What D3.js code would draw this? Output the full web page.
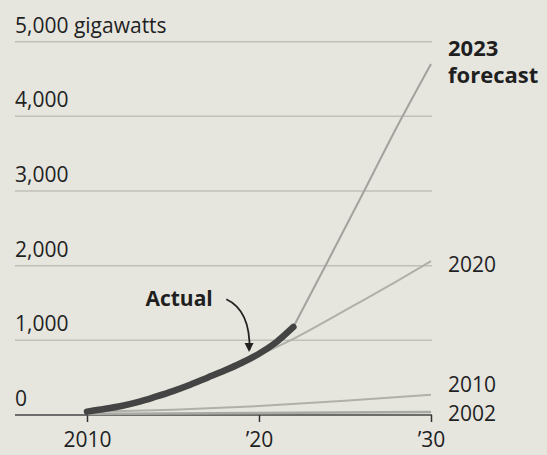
<!DOCTYPE html>
<html>
<head>
<meta charset="utf-8">
<script src="https://cdn.jsdelivr.net/npm/d3@7"></script>
<style>
  body { margin: 0; background: #e6e6df; }
  svg { display: block; }
  text { font-family: 'Open Sans', sans-serif; fill: #1f1f1f; }
</style>
</head>
<body>
<svg></svg>
<script>
// values, gigawatts
var actualYears = [2010, 2011, 2012, 2013, 2014, 2015, 2016, 2017, 2018, 2019, 2020, 2021, 2022];
var actualValues = [45, 80, 120, 175, 245, 320, 405, 500, 595, 700, 820, 975, 1180];

var f2023Years = [2022, 2024, 2026, 2028, 2030];
var f2023Values = [1180, 2060, 2950, 3850, 4700];

var f2020Years = [2020, 2021, 2022, 2024, 2026, 2028, 2030];
var f2020Values = [810, 910, 1020, 1270, 1530, 1790, 2060];

var f2010Years = [2010, 2015, 2020, 2025, 2030];
var f2010Values = [40, 70, 120, 190, 270];

var f2002Years = [2010, 2020, 2030];
var f2002Values = [15, 28, 40];

var yTicks = [0, 1000, 2000, 3000, 4000, 5000];
var yTickLabels = ['0', '1,000', '2,000', '3,000', '4,000', '5,000 gigawatts'];
var xTicks = [2010, 2020, 2030];
var xTickLabels = ['2010', '\u201920', '\u201930'];

var svgWidth = 547;
var svgHeight = 455;

var svg = d3.select('svg').attr('width', svgWidth).attr('height', svgHeight);

svg.append('rect')
  .attr('width', svgWidth)
  .attr('height', svgHeight)
  .attr('fill', '#e6e6df');

var xScale = d3.scaleLinear().domain([2010, 2030]).range([87, 431]);
var yScale = d3.scaleLinear().domain([0, 5000]).range([415, 41.7]);

var gridLeft = 15;
var gridRight = 432;

function zip(years, values) {
  return years.map((yr, i) => ({ year: yr, value: values[i] }));
}

// gridlines
svg.append('g')
  .selectAll('line')
  .data(yTicks.slice(1))
  .enter()
  .append('line')
  .attr('x1', gridLeft)
  .attr('x2', gridRight)
  .attr('y1', (d) => yScale(d))
  .attr('y2', (d) => yScale(d))
  .attr('stroke', '#c0c0b8')
  .attr('stroke-width', 1.5);

// y labels
svg.append('g')
  .selectAll('text')
  .data(yTicks)
  .enter()
  .append('text')
  .attr('x', gridLeft)
  .attr('y', (d) => yScale(d) - 9)
  .attr('font-size', 21)
  .text((d, i) => yTickLabels[i]);

// baseline
svg.append('line')
  .attr('x1', gridLeft)
  .attr('x2', gridRight)
  .attr('y1', yScale(0))
  .attr('y2', yScale(0))
  .attr('stroke', '#444')
  .attr('stroke-width', 1.5);

// x axis ticks
var xAxis = d3.axisBottom(xScale)
  .tickValues(xTicks)
  .tickSize(7)
  .tickFormat((d, i) => xTickLabels[i]);

var xAxisG = svg.append('g')
  .attr('transform', 'translate(0,' + yScale(0) + ')')
  .call(xAxis);

xAxisG.select('.domain').remove();
xAxisG.selectAll('line').attr('stroke', '#333').attr('stroke-width', 1.5);
xAxisG.selectAll('text')
  .attr('font-family', "'Open Sans', sans-serif")
  .attr('font-size', 21)
  .attr('fill', '#1f1f1f')
  .attr('dy', null)
  .attr('y', 32);

var line = d3.line()
  .x((d) => xScale(d.year))
  .y((d) => yScale(d.value))
  .curve(d3.curveMonotoneX);

var forecasts = [
  { name: '2002', data: zip(f2002Years, f2002Values), color: '#a9a9a4', width: 2.5 },
  { name: '2010', data: zip(f2010Years, f2010Values), color: '#b0b0ab', width: 2 },
  { name: '2020', data: zip(f2020Years, f2020Values), color: '#b0b0ab', width: 2 },
  { name: '2023', data: zip(f2023Years, f2023Values), color: '#a2a29e', width: 2 }
];

svg.append('g')
  .selectAll('path')
  .data(forecasts)
  .enter()
  .append('path')
  .attr('d', (d) => line(d.data))
  .attr('fill', 'none')
  .attr('stroke', (d) => d.color)
  .attr('stroke-width', (d) => d.width);

// actual
svg.append('path')
  .attr('d', line(zip(actualYears, actualValues)))
  .attr('fill', 'none')
  .attr('stroke', '#444')
  .attr('stroke-width', 6.5)
  .attr('stroke-linecap', 'round');

// right side labels
var labelX = xScale(2030) + 17;
var endY = (arr) => yScale(arr[arr.length - 1]);

var topLabel = svg.append('text')
  .attr('x', labelX)
  .attr('y', endY(f2023Values) - 8)
  .attr('font-size', 22)
  .attr('font-weight', 'bold')
  .attr('fill', '#111');
topLabel.append('tspan').attr('x', labelX).text('2023');
topLabel.append('tspan').attr('x', labelX).attr('dy', 27).text('forecast');

svg.append('text')
  .attr('x', labelX)
  .attr('y', endY(f2020Values) + 11)
  .attr('font-size', 21)
  .text('2020');

svg.append('text')
  .attr('x', labelX)
  .attr('y', endY(f2010Values) - 3)
  .attr('font-size', 21)
  .text('2010');

svg.append('text')
  .attr('x', labelX)
  .attr('y', endY(f2002Values) + 9)
  .attr('font-size', 21)
  .text('2002');

// Actual annotation
svg.append('text')
  .attr('x', xScale(2013.4))
  .attr('y', yScale(1460))
  .attr('font-size', 21)
  .attr('font-weight', 'bold')
  .attr('fill', '#474747')
  .text('Actual');

var arrowStart = [xScale(2018.1), yScale(1550)];
var arrowCtrl = [xScale(2019.5), yScale(1400)];
var arrowEnd = [xScale(2019.45), yScale(870)];

svg.append('path')
  .attr('d', 'M' + arrowStart + 'Q' + arrowCtrl + ' ' + arrowEnd)
  .attr('fill', 'none')
  .attr('stroke', '#222')
  .attr('stroke-width', 1.8);

svg.append('path')
  .attr('d', 'M' + (arrowEnd[0] - 5) + ',' + (arrowEnd[1] - 7) +
    'L' + (arrowEnd[0] + 4) + ',' + (arrowEnd[1] - 7) +
    'L' + (arrowEnd[0] - 0.5) + ',' + (arrowEnd[1] + 2) + 'Z')
  .attr('fill', '#222');
</script>
</body>
</html>
